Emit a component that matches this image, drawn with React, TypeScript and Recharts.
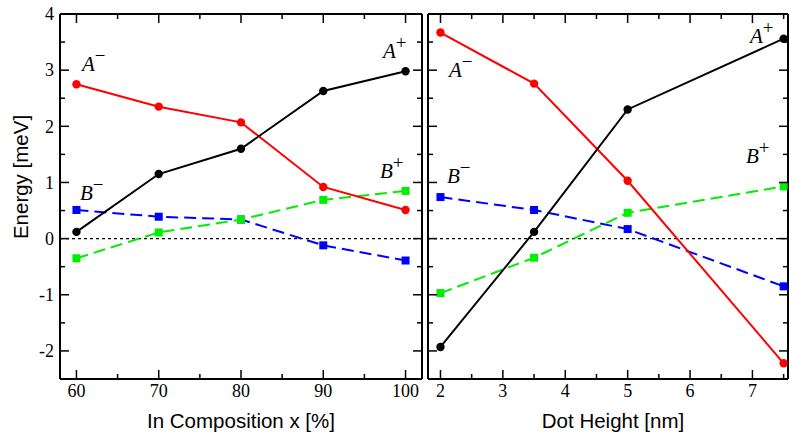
import { LineChart, Line, XAxis, YAxis, ReferenceLine } from 'recharts';

// left panel: In composition x [%]
const compX = [60, 70, 80, 90, 100];
const compAMinus = [2.75, 2.35, 2.07, 0.92, 0.51];
const compAPlus = [0.12, 1.15, 1.6, 2.63, 2.98];
const compBMinus = [0.51, 0.39, 0.34, -0.12, -0.39];
const compBPlus = [-0.35, 0.11, 0.34, 0.69, 0.85];

// right panel: dot height [nm]
const heightX = [2, 3.5, 5, 7.5];
const heightAMinus = [3.67, 2.76, 1.03, -2.22];
const heightAPlus = [-1.93, 0.12, 2.3, 3.56];
const heightBMinus = [0.74, 0.51, 0.17, -0.85];
const heightBPlus = [-0.97, -0.34, 0.46, 0.93];

const energyTicks = [-2, -1.5, -1, -0.5, 0, 0.5, 1, 1.5, 2, 2.5, 3, 3.5, 4];
const compTicks = [60, 65, 70, 75, 80, 85, 90, 95, 100];
const heightTicks = [2, 2.5, 3, 3.5, 4, 4.5, 5, 5.5, 6, 6.5, 7, 7.5];

const compRows = compX.map((x, i) => ({
  x, am: compAMinus[i], ap: compAPlus[i], bm: compBMinus[i], bp: compBPlus[i],
}));
const heightRows = heightX.map((x, i) => ({
  x, am: heightAMinus[i], ap: heightAPlus[i], bm: heightBMinus[i], bp: heightBPlus[i],
}));

const SERIF = '"Liberation Serif", "Times New Roman", serif';
const SANS = '"Liberation Sans", Arial, sans-serif';
const MAJOR = 9;
const MINOR = 5;

type Side = 'bottom' | 'top' | 'left' | 'right';

function tickFactory(side: Side, isMajor: (v: number) => boolean, label: boolean) {
  return (props: any) => {
    const { x, y, payload } = props;
    const v = payload.value as number;
    const len = isMajor(v) ? MAJOR : MINOR;
    let x2 = x, y2 = y;
    if (side === 'bottom') y2 = y - len;
    if (side === 'top') y2 = y + len;
    if (side === 'left') x2 = x + len;
    if (side === 'right') x2 = x - len;
    const showText = label && isMajor(v);
    return (
      <g>
        <line x1={x} y1={y} x2={x2} y2={y2} stroke="#000" strokeWidth={1.5} />
        {showText && side === 'bottom' && (
          <text x={x} y={y + 18} textAnchor="middle" fontFamily={SERIF} fontSize={18} fill="#000">{v}</text>
        )}
        {showText && side === 'left' && (
          <text x={x - 6} y={y} dy="0.35em" textAnchor="end" fontFamily={SERIF} fontSize={18} fill="#000">{v}</text>
        )}
      </g>
    );
  };
}

const isInt = (v: number) => Number.isInteger(v);
const isTen = (v: number) => v % 10 === 0;

const CircleDot = (color: string) => (props: any) => {
  const { cx, cy, index } = props;
  if (cx == null || cy == null) return <g key={index} />;
  return <circle key={index} cx={cx} cy={cy} r={4.2} fill={color} />;
};

const SquareDot = (color: string) => (props: any) => {
  const { cx, cy, index } = props;
  if (cx == null || cy == null) return <g key={index} />;
  return <rect key={index} x={cx - 4} y={cy - 4} width={8} height={8} fill={color} />;
};

function Series() {
  return [
    <Line key="bm" dataKey="bm" stroke="#0000ff" strokeWidth={2} strokeDasharray="12 6" dot={SquareDot('#0000ff')} isAnimationActive={false} />,
    <Line key="bp" dataKey="bp" stroke="#00ee00" strokeWidth={2} strokeDasharray="12 6" dot={SquareDot('#00ee00')} isAnimationActive={false} />,
    <Line key="am" dataKey="am" stroke="#ff0000" strokeWidth={2} dot={CircleDot('#ff0000')} isAnimationActive={false} />,
    <Line key="ap" dataKey="ap" stroke="#000000" strokeWidth={2} dot={CircleDot('#000000')} isAnimationActive={false} />,
  ];
}

const axisLine = { stroke: '#000', strokeWidth: 2 };

function Panel(props: {
  rows: any[]; domain: [number, number]; ticks: number[]; major: (v: number) => boolean;
  width: number; leftWidth: number; yLabels: boolean; right: number;
}) {
  const { rows, domain, ticks, major, width, leftWidth, yLabels, right } = props;
  return (
    <LineChart width={width} height={436} data={rows} margin={{ top: 13, right, bottom: 56, left: 0 }}>
      <XAxis dataKey="x" type="number" domain={domain} ticks={ticks} interval={0} allowDataOverflow
        height={1} tickSize={0} tickMargin={0} tickLine={false} axisLine={axisLine}
        tick={tickFactory('bottom', major, true)} />
      <XAxis xAxisId="top" orientation="top" dataKey="x" type="number" domain={domain} ticks={ticks} interval={0} allowDataOverflow
        height={1} tickSize={0} tickMargin={0} tickLine={false} axisLine={axisLine}
        tick={tickFactory('top', major, false)} />
      <YAxis type="number" domain={[-2.5, 4]} ticks={energyTicks} interval={0} allowDataOverflow
        width={leftWidth} tickSize={0} tickMargin={0} tickLine={false} axisLine={axisLine}
        tick={tickFactory('left', isInt, yLabels)} />
      <YAxis yAxisId="right" orientation="right" type="number" domain={[-2.5, 4]} ticks={energyTicks} interval={0} allowDataOverflow
        width={1} tickSize={0} tickMargin={0} tickLine={false} axisLine={axisLine}
        tick={tickFactory('right', isInt, false)} />
      <ReferenceLine y={0} stroke="#000" strokeWidth={1.2} strokeDasharray="3 3" />
      {Series()}
    </LineChart>
  );
}

function Tag(p: { x: number; y: number; base: string; sup: string }) {
  return (
    <text x={p.x} y={p.y} fontFamily={SERIF} fontSize={21} fontStyle="italic" fill="#000">
      {p.base}
      <tspan dy={-9} fontSize={19} fontStyle="normal">{p.sup}</tspan>
    </text>
  );
}

export default function App() {
  return (
    <div style={{ position: 'absolute', left: 0, top: 0, width: 789, height: 436, background: '#fff' }}>
      <div style={{ position: 'absolute', left: 0, top: 0 }}>
        <Panel rows={compRows} domain={[58, 102]} ticks={compTicks} major={isTen}
          width={430} leftWidth={60} yLabels right={7} />
      </div>
      <div style={{ position: 'absolute', left: 400, top: 0 }}>
        <Panel rows={heightRows} domain={[1.8, 7.57]} ticks={heightTicks} major={isInt}
          width={389} leftWidth={28} yLabels={false} right={0} />
      </div>
      <svg width={789} height={436} style={{ position: 'absolute', left: 0, top: 0, pointerEvents: 'none' }}>
        <text x={21} y={177} transform="rotate(-90 21 177)" dy="0.35em" textAnchor="middle"
          fontFamily={SANS} fontSize={20.5} fill="#000">Energy [meV]</text>
        <text x={241} y={428} textAnchor="middle" fontFamily={SANS} fontSize={20.5} fill="#000">In Composition x [%]</text>
        <text x={613} y={428} textAnchor="middle" fontFamily={SANS} fontSize={20.5} fill="#000">Dot Height [nm]</text>
        <Tag x={82} y={71} base="A" sup="−" />
        <Tag x={383} y={58} base="A" sup="+" />
        <Tag x={80} y={200} base="B" sup="−" />
        <Tag x={380} y={178} base="B" sup="+" />
        <Tag x={449} y={77} base="A" sup="−" />
        <Tag x={750} y={43} base="A" sup="+" />
        <Tag x={447} y={183} base="B" sup="−" />
        <Tag x={746} y={163} base="B" sup="+" />
      </svg>
    </div>
  );
}
